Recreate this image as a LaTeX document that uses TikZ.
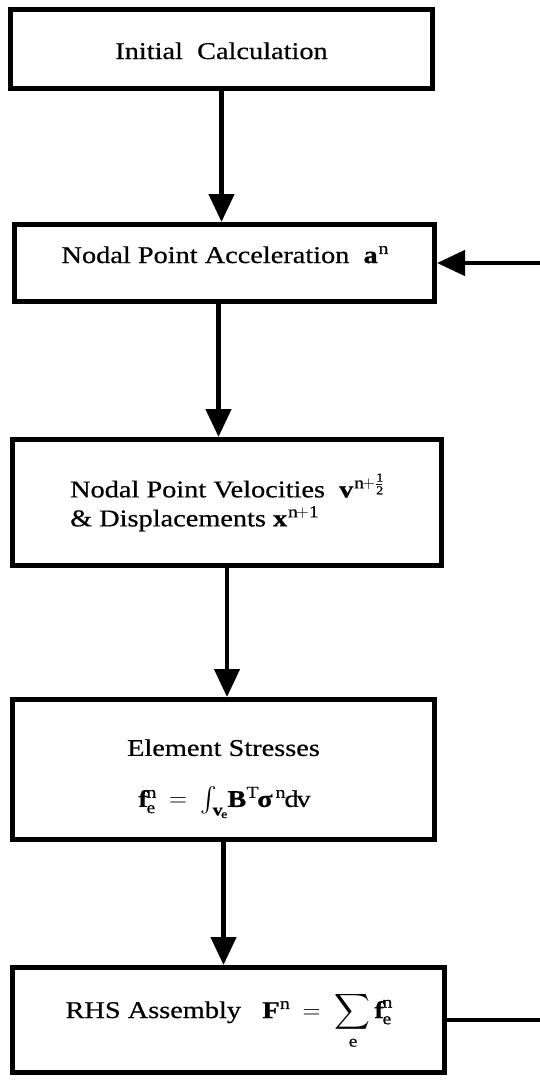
\documentclass[tikz,border=0pt]{standalone}
\usepackage{amsmath}
\usepackage{fontspec}
\setmainfont{Liberation Serif}[FakeStretch=1.18,FakeBold=0.6]
\usetikzlibrary{arrows.meta,calc}
\tikzset{
  boxnode/.style={draw, line width=5pt, inner sep=0pt, font=\fontsize{24}{29}\selectfont},
  flowarrow/.style={line width=4.5pt, -{Triangle[length=28pt,width=25pt]}},
  flowline/.style={line width=4pt}
}
\newcommand{\bsig}{\text{\textbf{σ}}}
\newcommand{\sps}[1]{^{\hspace{3pt}\mathrm{#1}}}
\begin{document}
\begin{tikzpicture}[x=1pt,y=-1pt]
\useasboundingbox (0,0) rectangle (539,1080);
\node[boxnode, minimum width=422pt, minimum height=79pt, text height=20pt, text depth=0pt] (b1) at (221.5,49) {Initial\ \ Calculation\hspace{38pt}};
\node[boxnode, minimum width=420pt, minimum height=77pt, text height=20pt, text depth=20pt] (b2) at (224.5,263) {Nodal Point Acceleration\ \ $\mathbf{a}\sps{n}$\hspace{14pt}};
\node[boxnode, minimum width=429pt, minimum height=126pt, align=left] (b3) at (227,502.5) {Nodal Point Velocities\ \ $\mathbf{v}\sps{n+\frac{1}{2}}$\\ \& Displacements\ $\mathbf{x}\sps{n+1}$};
\node[boxnode, minimum width=422pt, minimum height=140pt, align=center] (b4) at (223.5,769.5) {\rule{0pt}{35pt}Element Stresses\\[22pt]$\mathbf{f}_{\mathrm{e}}^{\mathrm{n}} \;=\; \int_{\mathbf{v}_{\mathrm{e}}}\!\mathbf{B}\sps{T}\bsig\sps{n}\mathrm{dv}$};
\node[boxnode, minimum width=432pt, minimum height=105pt, text height=20pt, text depth=24pt] (b5) at (228.5,1020) {RHS Assembly\ \ \ $\mathbf{F}\sps{n} \;=\; \displaystyle\sum_{\mathrm{e}}\mathbf{f}_{\mathrm{e}}^{\mathrm{n}}$\hspace{78pt}};
\coordinate (fb) at (543,0);
\draw[flowarrow] (b1.south) -- (b1.south |- b2.north);
\draw[flowarrow] ([xshift=-6pt]b2.south) -- ([xshift=-6pt]b2.south |- b3.north);
\draw[flowarrow] (b3.south) -- (b3.south |- b4.north);
\draw[flowarrow] (b4.south) -- (b4.south |- b5.north);
\draw[flowline] (b5.east) -- (b5.east -| fb) -- (fb |- b2.east);
\draw[flowarrow] (fb |- b2.east) -- (b2.east);
\end{tikzpicture}
\end{document}
